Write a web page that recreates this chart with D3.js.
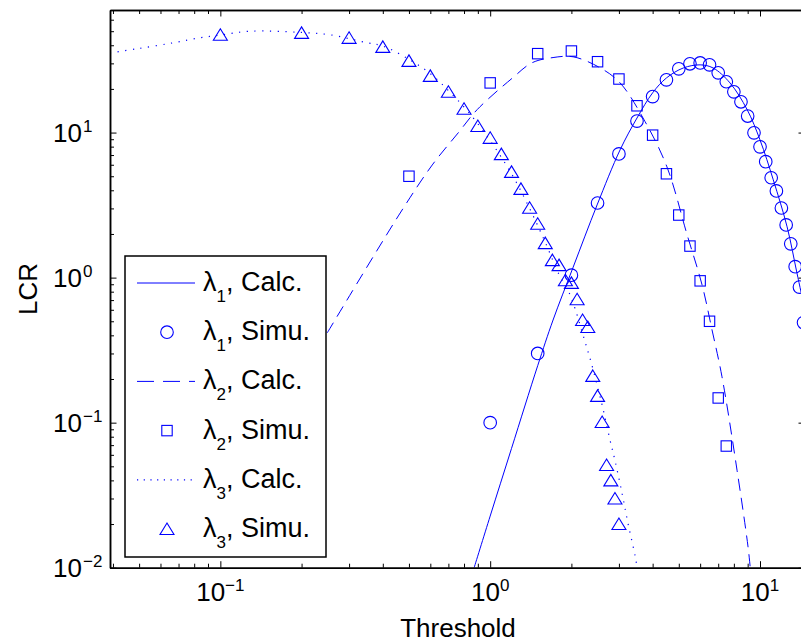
<html>
<head>
<title>LCR vs Threshold</title>
<script src="https://d3js.org/d3.v7.min.js"></script>
<style>
body { margin: 0; background: #fff; }
svg { display: block; font-family: 'Liberation Sans', Arial, Helvetica, sans-serif; }
.axis path, .axis line { stroke: #000; }
.axis path { stroke-width: 1.5; }
.axis line { stroke-width: 1; }
</style>
</head>
<body>
<svg width="801" height="643"></svg>

<script>
// values (log-log)
var lam1SimX = [1, 1.5, 2, 2.5, 3, 3.5, 4, 4.5, 5, 5.5, 6, 6.5, 7, 7.5, 8, 8.5, 9, 9.5, 10, 10.5, 11, 11.5, 12, 12.5, 13, 13.5, 14, 14.5];
var lam1SimY = [0.1, 0.30, 1.04, 3.27, 7.13, 12.0, 17.7, 23.1, 27.5, 29.8, 30.2, 29.3, 25.8, 22.4, 19.1, 16.3, 13.0, 9.96, 7.97, 6.3, 4.88, 3.96, 3.02, 2.31, 1.71, 1.19, 0.86, 0.49];
var lam1CalcX = [0.872, 1.0, 1.2, 1.5, 1.71, 2.03, 2.49, 3.03, 3.5, 4.0, 4.5, 5.2, 6.0, 6.7, 7.74, 8.96, 10, 11.2, 12.6, 13.7, 14.5];
var lam1CalcY = [0.01, 0.0227, 0.0665, 0.247, 0.51, 1.18, 3.17, 7.6, 12.6, 18.8, 23.8, 27.9, 29.3, 27.9, 22, 14.4, 8.9, 4.72, 2.24, 1.08, 0.66];

var lam2SimX = [0.5, 1, 1.5, 2, 2.5, 3, 3.5, 4, 4.5, 5, 5.5, 6, 6.5, 7, 7.5];
var lam2SimY = [5.0, 22, 35, 36.5, 30.8, 23.4, 15.3, 9.6, 5.2, 2.7, 1.65, 0.95, 0.5, 0.148, 0.069];
var lam2CalcX = [0.249, 0.464, 0.61, 0.761, 0.895, 1.21, 1.43, 1.71, 2.03, 2.56, 3.03, 3.75, 4.52, 5.37, 6.1, 6.64, 7.23, 8.22, 9.03, 9.2];
var lam2CalcY = [0.416, 2.79, 5.98, 9.95, 14.4, 23.8, 30.3, 32.9, 33.3, 27.9, 22, 11.9, 5.8, 1.97, 0.89, 0.436, 0.207, 0.047, 0.0139, 0.01];

var lam3SimX = [0.1, 0.2, 0.3, 0.4, 0.5, 0.6, 0.7, 0.8, 0.9, 1.0, 1.1, 1.2, 1.3, 1.4, 1.5, 1.6, 1.7, 1.8, 1.9, 2.0, 2.1, 2.2, 2.3, 2.4, 2.5, 2.6, 2.7, 2.8, 2.9, 3.0];
var lam3SimY = [47.2, 48.7, 45, 39, 31.2, 24.6, 19.1, 14.6, 11.1, 9.2, 7.1, 5.36, 4.09, 3.03, 2.35, 1.73, 1.32, 1.22, 0.96, 0.92, 0.71, 0.51, 0.457, 0.21, 0.153, 0.101, 0.051, 0.040, 0.030, 0.020];
var lam3CalcX = [0.039, 0.049, 0.067, 0.084, 0.1, 0.129, 0.2, 0.255, 0.35, 0.4, 0.5, 0.6, 0.7, 0.8, 0.9, 1.0, 1.2, 1.4, 1.6, 1.8, 1.96, 2.07, 2.21, 2.37, 2.6, 2.78, 2.9, 3.08, 3.24, 3.45, 3.5];
var lam3CalcY = [35.4, 37.8, 41.6, 45, 47, 50, 49, 47.2, 41.6, 39.5, 32, 25.5, 19.5, 15, 11.5, 8.8, 5.2, 3.0, 1.75, 1.05, 0.79, 0.6, 0.40, 0.258, 0.132, 0.076, 0.055, 0.0327, 0.0203, 0.0119, 0.0101];

var majorX = [0.1, 1, 10];
var majorY = [0.01, 0.1, 1, 10];

var legendSub = ["1", "1", "2", "2", "3", "3"];
var legendKind = ["Calc.", "Simu.", "Calc.", "Simu.", "Calc.", "Simu."];

var svg = d3.select("svg");
var blue = "#0000ff";

var x = d3.scaleLog().domain([0.039, 14.68]).range([110, 805]);
var y = d3.scaleLog().domain([0.01, 70]).range([567.7, 10]);

function isMajor(d) { var l = Math.log10(d); return Math.abs(l - Math.round(l)) < 1e-6; }
var minorX = x.ticks().filter(function(d){ return !isMajor(d); });
var minorY = y.ticks().filter(function(d){ return !isMajor(d); });

// clip the curves to the plot box
svg.append("clipPath").attr("id", "plot")
  .append("rect").attr("x", 110).attr("y", 10).attr("width", 695).attr("height", 557.7);

var line = d3.line()
  .x(function(d){ return x(d[0]); })
  .y(function(d){ return y(d[1]); })
  .curve(d3.curveCatmullRom);

function pairs(xs, ys) { return xs.map(function(v, i){ return [v, ys[i]]; }); }

var curves = svg.append("g").attr("clip-path", "url(#plot)");
curves.append("path").datum(pairs(lam1CalcX, lam1CalcY)).attr("d", line)
  .attr("fill", "none").attr("stroke", blue).attr("stroke-width", 1);
curves.append("path").datum(pairs(lam2CalcX, lam2CalcY)).attr("d", line)
  .attr("fill", "none").attr("stroke", blue).attr("stroke-width", 1).attr("stroke-dasharray", "12,7");
curves.append("path").datum(pairs(lam3CalcX, lam3CalcY)).attr("d", line)
  .attr("fill", "none").attr("stroke", blue).attr("stroke-width", 1.2).attr("stroke-dasharray", "1.2,6.5");

// markers
function circle(g, cx, cy) {
  g.append("circle").attr("cx", cx).attr("cy", cy).attr("r", 6.3)
    .attr("fill", "none").attr("stroke", blue).attr("stroke-width", 1.1);
}
function square(g, cx, cy) {
  g.append("rect").attr("x", cx - 5.2).attr("y", cy - 5.2).attr("width", 10.4).attr("height", 10.4)
    .attr("fill", "none").attr("stroke", blue).attr("stroke-width", 1.1);
}
function triangle(g, cx, cy) {
  g.append("path").attr("d", "M" + cx + "," + (cy - 6) + "L" + (cx + 7) + "," + (cy + 5.5) + "L" + (cx - 7) + "," + (cy + 5.5) + "Z")
    .attr("fill", "none").attr("stroke", blue).attr("stroke-width", 1.1);
}

var marks = svg.append("g");
lam1SimX.forEach(function(d, i){ circle(marks, x(d), y(lam1SimY[i])); });
lam2SimX.forEach(function(d, i){ square(marks, x(d), y(lam2SimY[i])); });
lam3SimX.forEach(function(d, i){ triangle(marks, x(d), y(lam3SimY[i])); });

// axes, ticks pointing inward on every side
function addAxis(axis, tr, vals, size) {
  svg.append("g").attr("class", "axis").attr("transform", tr)
    .call(axis.tickValues(vals).tickSize(-size).tickSizeOuter(0).tickFormat(""));
}
addAxis(d3.axisBottom(x), "translate(0,567.7)", minorX, 4);
addAxis(d3.axisBottom(x), "translate(0,567.7)", majorX, 6.5);
addAxis(d3.axisTop(x), "translate(0,10)", minorX, 4);
addAxis(d3.axisTop(x), "translate(0,10)", majorX, 6.5);
addAxis(d3.axisLeft(y), "translate(110,0)", minorY, 4);
addAxis(d3.axisLeft(y), "translate(110,0)", majorY, 6.5);
addAxis(d3.axisRight(y), "translate(805,0)", minorY, 4);
addAxis(d3.axisRight(y), "translate(805,0)", majorY, 6.5);

function expText(e) { return e < 0 ? "\u2212" + (-e) : String(e); }

majorY.forEach(function(d){
  var e = Math.round(Math.log10(d));
  svg.append("text").attr("x", 82).attr("y", y(d) + 9.5).attr("text-anchor", "end")
    .style("font-size", "26px").text("10");
  svg.append("text").attr("x", 83).attr("y", y(d) - 0.5)
    .style("font-size", "17px").text(expText(e));
});

majorX.forEach(function(d){
  var e = Math.round(Math.log10(d));
  var t = svg.append("text").attr("x", x(d)).attr("y", 601).attr("text-anchor", "middle")
    .style("font-size", "26px");
  t.append("tspan").text("10");
  t.append("tspan").attr("dy", -10).style("font-size", "17px").text(expText(e));
});

svg.append("text").attr("transform", "rotate(-90)")
  .attr("x", -288.9).attr("y", 37).attr("text-anchor", "middle")
  .style("font-size", "26px").text("LCR");
svg.append("text").attr("x", 458).attr("y", 637).attr("text-anchor", "middle")
  .style("font-size", "26px").text("Threshold");

// legend box on top of the curves
var lg = svg.append("g");
lg.append("rect").attr("x", 125).attr("y", 256).attr("width", 201).attr("height", 301)
  .attr("fill", "#fff").attr("stroke", "#000").attr("stroke-width", 1.5);

legendKind.forEach(function(k, i){
  var cy = 283 + i * 49.2;
  if (i == 0) lg.append("line").attr("x1", 137).attr("x2", 195).attr("y1", cy).attr("y2", cy)
    .attr("stroke", blue).attr("stroke-width", 1);
  if (i == 2) lg.append("line").attr("x1", 137).attr("x2", 195).attr("y1", cy).attr("y2", cy)
    .attr("stroke", blue).attr("stroke-width", 1).attr("stroke-dasharray", "17,9");
  if (i == 4) lg.append("line").attr("x1", 137).attr("x2", 195).attr("y1", cy).attr("y2", cy)
    .attr("stroke", blue).attr("stroke-width", 1.2).attr("stroke-dasharray", "1.2,5.5");
  if (i == 1) circle(lg, 167, cy);
  if (i == 3) square(lg, 167, cy);
  if (i == 5) triangle(lg, 167, cy);

  var t = lg.append("text").attr("x", 203).attr("y", cy + 8).style("font-size", "27px");
  t.append("tspan").text("\u03bb");
  t.append("tspan").attr("dy", 11).style("font-size", "17px").text(legendSub[i]);
  t.append("tspan").attr("dy", -11).text(", " + k);
});
</script>
</body>
</html>
